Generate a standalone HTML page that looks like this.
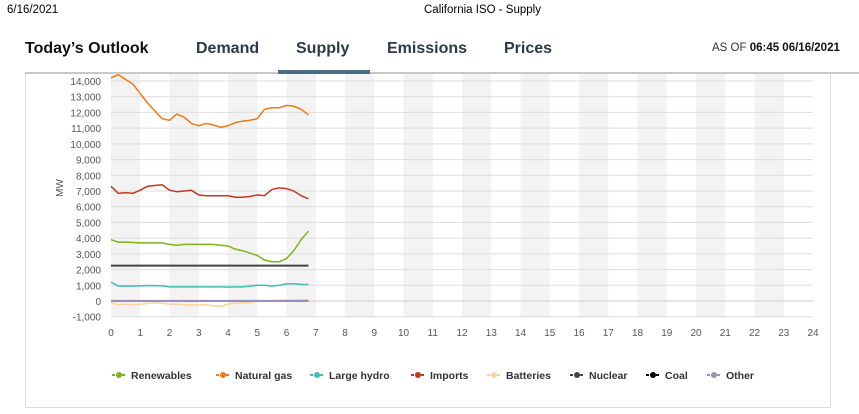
<!DOCTYPE html>
<html><head><meta charset="utf-8"><style>
body{margin:0;width:859px;height:414px;background:#fff;font-family:"Liberation Sans",sans-serif;position:relative;overflow:hidden}
.a{position:absolute;white-space:nowrap}
.tab{font-size:16px;font-weight:bold;color:#2b3a4a;top:40px}
</style></head><body>
<div class="a" style="left:7px;top:4px;font-size:11.5px">6/16/2021</div>
<div class="a" style="left:424px;top:4px;font-size:11.5px">California ISO - Supply</div>
<div class="a tab" style="left:25px;color:#111">Today’s Outlook</div>
<div class="a tab" style="left:196px">Demand</div>
<div class="a tab" style="left:296px">Supply</div>
<div class="a tab" style="left:387px">Emissions</div>
<div class="a tab" style="left:504px">Prices</div>
<div class="a" style="left:712px;top:42px;font-size:11.5px;color:#333">AS OF <b style="color:#111">06:45 06/16/2021</b></div>
<div class="a" style="left:25px;top:72px;width:834px;height:2px;background:#c8c8c8"></div>
<div class="a" style="left:278px;top:70px;width:92px;height:4px;background:#4a6b80"></div>
<div class="a" style="left:25px;top:74px;width:804px;height:333px;border-left:1px solid #ddd;border-right:1px solid #ddd;border-bottom:1px solid #ddd"></div>
<svg id="c" class="a" style="left:0;top:0" width="859" height="414"></svg>
<script>
const hours=[0,0.25,0.5,0.75,1,1.25,1.5,1.75,2,2.25,2.5,2.75,3,3.25,3.5,3.75,4,4.25,4.5,4.75,5,5.25,5.5,5.75,6,6.25,6.5,6.75];
const renewables=[3900,3750,3750,3720,3700,3700,3700,3700,3600,3550,3600,3600,3600,3600,3600,3550,3500,3300,3200,3050,2900,2600,2500,2500,2700,3200,3900,4450];
const naturalGas=[14200,14400,14100,13800,13200,12600,12100,11600,11500,11900,11700,11300,11150,11300,11200,11050,11150,11350,11450,11500,11600,12200,12300,12300,12450,12400,12200,11850];
const largeHydro=[1200,950,950,950,960,980,980,960,900,900,900,900,900,900,900,900,880,900,900,950,1000,1000,950,1000,1100,1100,1050,1050];
const imports=[7300,6850,6900,6850,7050,7300,7350,7400,7050,6950,7000,7050,6750,6700,6700,6700,6700,6600,6600,6650,6750,6700,7100,7200,7150,7000,6700,6500];
const batteries=[-100,-250,-200,-250,-200,-150,-100,-150,-200,-200,-250,-250,-250,-250,-300,-350,-200,-150,-100,-100,50,0,0,50,50,50,80,80];
const nuclear=[2250,2250,2250,2250,2250,2250,2250,2250,2250,2250,2250,2250,2250,2250,2250,2250,2250,2250,2250,2250,2250,2250,2250,2250,2250,2250,2250,2250];
const coal=[0,0,0,0,0,0,0,0,0,0,0,0,0,0,0,0,0,0,0,0,0,0,0,0,0,0,0,0];
const other=[10,10,10,10,10,10,10,10,10,10,10,10,10,10,10,10,10,10,10,10,10,10,10,10,10,10,10,10];
const yTicks=[-1000,0,1000,2000,3000,4000,5000,6000,7000,8000,9000,10000,11000,12000,13000,14000];
const xTicks=[0,1,2,3,4,5,6,7,8,9,10,11,12,13,14,15,16,17,18,19,20,21,22,23,24];
const seriesNames=["Renewables","Natural gas","Large hydro","Imports","Batteries","Nuclear","Coal","Other"];
const seriesColors=["#7cb518","#f07818","#3cc0b4","#c0391f","#fcd39a","#444444","#000000","#9b8fbd"];
const seriesData=[renewables,naturalGas,largeHydro,imports,batteries,nuclear,coal,other];
const NS="http://www.w3.org/2000/svg",svg=document.getElementById('c');
const X0=111,X1=813,Y0=301,PY=15.714;
const x=h=>X0+(X1-X0)*h/24, y=v=>Y0-v/1000*PY;
function mk(t,a,par){const e=document.createElementNS(NS,t);for(const k in a)e.setAttribute(k,a[k]);(par||svg).appendChild(e);return e;}
const pTop=74,pBot=y(-1000)+1;
for(let h=0;h<24;h+=2){const r=mk('rect',{x:x(h),y:pTop,width:x(h+1)-x(h),height:pBot-pTop,fill:'#f3f3f3'});

}
yTicks.forEach(v=>{const l=mk('line',{x1:X0,x2:X1,y1:y(v),y2:y(v),stroke:v===0?'#ccc':'#ddd','stroke-width':1});


const t=mk('text',{x:101,y:y(v)+4,'text-anchor':'end','font-size':10,fill:'#555'});t.textContent=v.toLocaleString('en-US');

});
xTicks.forEach(h=>{const t=mk('text',{x:x(h),y:336,'text-anchor':'middle','font-size':10,fill:'#555'});t.textContent=h;

});
const yt=mk('text',{x:63,y:188,'text-anchor':'middle','font-size':10,fill:'#555',transform:'rotate(-90 63 188)'});yt.textContent='MW';


const order=[4,6,7,5,2,0,3,1];
order.forEach(i=>{const p=mk('polyline',{points:seriesData[i].map((v,k)=>x(hours[k])+','+y(v)).join(' '),fill:'none',stroke:seriesColors[i],'stroke-width':i===5||i===7?2:1.5});

});
const lx=[112,216,310,411,487,570,646,707];
seriesNames.forEach((n,i)=>{const g=mk('g',{});


const cx=lx[i];
mk('line',{x1:cx,x2:cx+14,y1:375,y2:375,stroke:seriesColors[i],'stroke-width':2,'stroke-dasharray':'3 2'},g);
mk('circle',{cx:cx+7,cy:375,r:3,fill:seriesColors[i]},g);
const t=mk('text',{x:cx+19,y:379,'font-size':10.5,'font-weight':'bold',fill:'#333'},g);t.textContent=n;});
</script>
</body></html>
